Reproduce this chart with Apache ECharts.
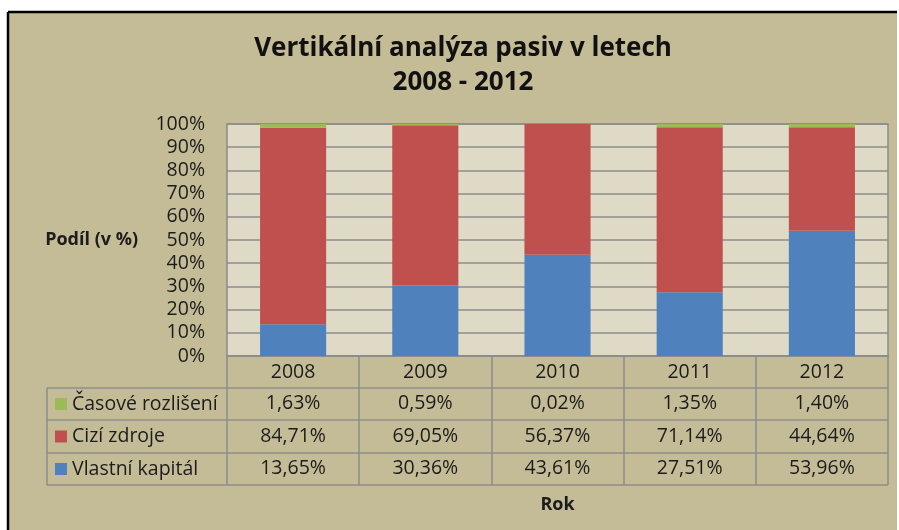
<!DOCTYPE html>
<html><head><meta charset="utf-8">
<script src="https://cdn.jsdelivr.net/npm/echarts@6/dist/echarts.min.js"></script>
<style>html,body{margin:0;padding:0;background:#fff;overflow:hidden}#c{width:899px;height:530px}</style>
</head><body><div id="c"></div>
<script>
const years = ['2008', '2009', '2010', '2011', '2012'];
const seriesNames = ['Časové rozlišení', 'Cizí zdroje', 'Vlastní kapitál'];
const casoveRozliseni = [1.63, 0.59, 0.02, 1.35, 1.40];
const ciziZdroje = [84.71, 69.05, 56.37, 71.14, 44.64];
const vlastniKapital = [13.65, 30.36, 43.61, 27.51, 53.96];
const yTicks = [0, 10, 20, 30, 40, 50, 60, 70, 80, 90, 100];

const FONT = '"Open Sans", sans-serif';
const TXT = '#1c1c1c';
const LINE = '#8c8c8c';
const FS = 19.5;
const fmt = v => v.toFixed(2).replace('.', ',') + '%';

const G = {left: 227, right: 11, top: 124, bottom: 174};
const plotL = 227, plotR = 888, plotB = 356;
const rowsY = [356, 388, 420, 453, 485];
const legL = 47;

const chart = echarts.init(document.getElementById('c'));

const graphics = [
  {type: 'rect', shape: {x: 8, y: 12, width: 889, height: 518}, style: {fill: '#c4bc96'}, z: -10},
  {type: 'line', shape: {x1: 8, y1: 12, x2: 897, y2: 12}, style: {stroke: '#000', lineWidth: 2.5}, z: -9},
  {type: 'line', shape: {x1: 8, y1: 12, x2: 8, y2: 530}, style: {stroke: '#000', lineWidth: 2.5}, z: -9}
];
for (let i = 1; i < rowsY.length; i++) {
  graphics.push({type: 'line', shape: {x1: legL, y1: rowsY[i], x2: plotR, y2: rowsY[i]}, style: {stroke: LINE, lineWidth: 1.5}, z: 5});
}
graphics.push({type: 'line', shape: {x1: legL, y1: rowsY[1], x2: legL, y2: rowsY[4]}, style: {stroke: LINE, lineWidth: 1.5}, z: 5});

const rowAxis = (vals, off) => ({
  type: 'category', data: vals.map(fmt), position: 'bottom', offset: off,
  axisLine: {show: false}, axisTick: {show: false}, splitLine: {show: false},
  axisLabel: {margin: 6, fontSize: FS, color: TXT, fontFamily: FONT}
});

chart.setOption({
  animation: false,
  backgroundColor: '#ffffff',
  textStyle: {fontFamily: FONT},
  title: {
    text: 'Vertikální analýza pasiv v letech\n2008 - 2012',
    left: 458, top: 27, textAlign: 'center',
    textStyle: {fontFamily: FONT, fontSize: 26, fontWeight: 'bold', color: '#111', lineHeight: 34}
  },
  legend: {
    orient: 'vertical', left: 50, top: 389, itemWidth: 12, itemHeight: 12, itemGap: 12.5,
    icon: 'rect', data: seriesNames,
    textStyle: {fontSize: FS, color: TXT, fontFamily: FONT, lineHeight: 20, padding: [0, 0, 0, 0]}
  },
  grid: {left: G.left, right: G.right, top: G.top, bottom: G.bottom, show: true, backgroundColor: '#dedac6', borderColor: LINE, borderWidth: 1.5},
  xAxis: [
    {
      type: 'category', data: years, position: 'bottom',
      name: 'Rok', nameLocation: 'middle', nameGap: 140,
      nameTextStyle: {fontSize: 18, fontWeight: 'bold', color: TXT, fontFamily: FONT},
      axisLine: {show: true, lineStyle: {color: LINE, width: 1.5}},
      axisTick: {show: true, alignWithLabel: false, length: 129, lineStyle: {color: LINE, width: 1.5}},
      axisLabel: {margin: 6, fontSize: FS, color: TXT, fontFamily: FONT}
    },
    rowAxis(casoveRozliseni, 31),
    rowAxis(ciziZdroje, 64),
    rowAxis(vlastniKapital, 96)
  ],
  yAxis: {
    type: 'value', min: 0, max: 100, interval: 10,
    name: 'Podíl (v %)', nameLocation: 'middle', nameRotate: 0, nameGap: 89,
    nameTextStyle: {fontSize: 18, fontWeight: 'bold', color: TXT, fontFamily: FONT, align: 'right'},
    axisLine: {show: false}, axisTick: {show: false},
    axisLabel: {formatter: v => v + '%', margin: 22, fontSize: FS, color: TXT, fontFamily: FONT},
    splitLine: {show: true, lineStyle: {color: LINE, width: 1.5}}
  },
  series: [
    {name: seriesNames[2], type: 'bar', stack: 't', barWidth: '50%', data: vlastniKapital, itemStyle: {color: '#4f81bd'}},
    {name: seriesNames[1], type: 'bar', stack: 't', barWidth: '50%', data: ciziZdroje, itemStyle: {color: '#c0504d'}},
    {name: seriesNames[0], type: 'bar', stack: 't', barWidth: '50%', data: casoveRozliseni, itemStyle: {color: '#9bbb59'}}
  ],
  graphic: graphics
});
</script></body></html>
